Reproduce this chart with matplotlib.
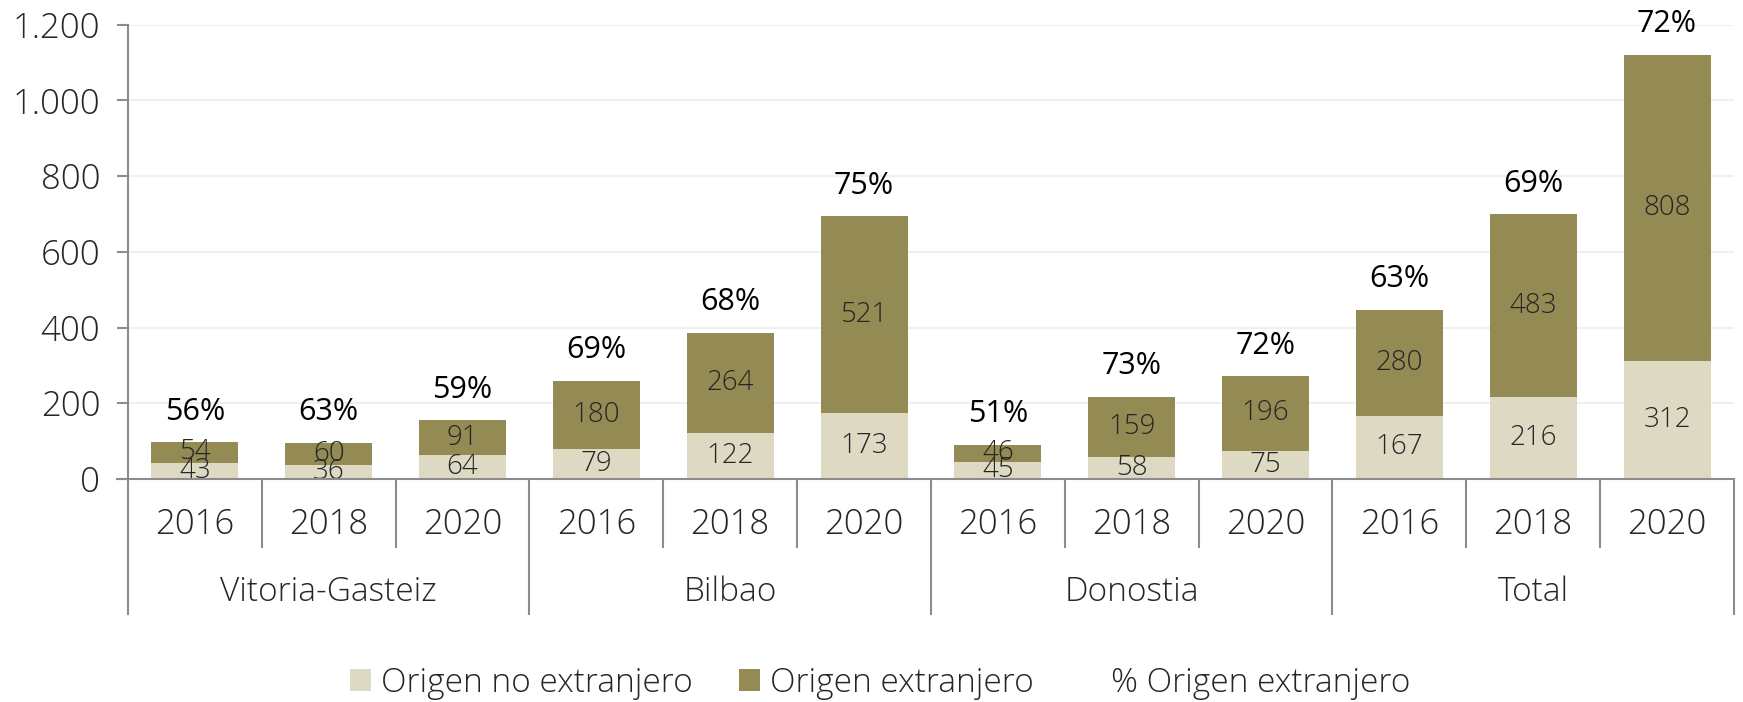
import matplotlib.pyplot as plt
import matplotlib.transforms as mtransforms
from matplotlib.patches import Patch
from matplotlib.lines import Line2D

plt.rcParams["font.family"] = ["Open Sans", "DejaVu Sans"]

# Données
ciudades = ["Vitoria-Gasteiz", "Bilbao", "Donostia", "Total"]
anios = ["2016", "2018", "2020"]
no_extranjero = [43, 36, 64, 79, 122, 173, 45, 58, 75, 167, 216, 312]
extranjero = [54, 60, 91, 180, 264, 521, 46, 159, 196, 280, 483, 808]
pct_extranjero = ["56%", "63%", "59%", "69%", "68%", "75%", "51%", "73%", "72%", "63%", "69%", "72%"]

c_claro = "#DDD9C3"
c_oscuro = "#948A54"
c_eje = "#8C8C8C"
c_texto = "#262626"

fig = plt.figure(figsize=(17.43, 7.02), dpi=100)
ax = fig.add_axes([0.0734, 0.3177, 0.9214, 0.6473])

n = len(no_extranjero)
x = list(range(n))
ancho = 0.65

ax.bar(x, no_extranjero, width=ancho, color=c_claro, zorder=2)
tops = [a + b for a, b in zip(no_extranjero, extranjero)]
ax.bar(x, extranjero, width=ancho, bottom=no_extranjero, color=c_oscuro, zorder=2)

# Etiquetas dentro de las barras
for i in range(n):
    ax.text(x[i], no_extranjero[i] / 2, str(no_extranjero[i]), ha="center", va="center",
            fontsize=20, fontweight="light", color=c_texto, zorder=3)
    ax.text(x[i], no_extranjero[i] + extranjero[i] / 2, str(extranjero[i]), ha="center",
            va="center", fontsize=20, fontweight="light", color=c_texto, zorder=3)
    ax.annotate(pct_extranjero[i], (x[i], tops[i]), xytext=(0, 22), textcoords="offset points",
                ha="center", va="center", fontsize=22, color="black")

ax.set_xlim(-0.5, n - 0.5)
ax.set_ylim(0, 1200)
ax.set_yticks(range(0, 1201, 200))
ax.set_yticklabels(["0", "200", "400", "600", "800", "1.000", "1.200"], fontweight="light")
ax.tick_params(axis="y", labelsize=25, labelcolor=c_texto, color=c_eje, length=8, width=1.5, pad=12)
ax.set_xticks([])
ax.grid(axis="y", color="#EFEFEF", linewidth=1.5, zorder=0)

for s in ["top", "right", "bottom"]:
    ax.spines[s].set_visible(False)
ax.spines["left"].set_color(c_eje)
ax.spines["left"].set_linewidth(1.5)

# Eje x con categorías agrupadas
trans = mtransforms.blended_transform_factory(ax.transData, ax.transAxes)
ax.plot([-0.58, n - 0.5], [0, 0], color=c_eje, lw=1.5, transform=trans, clip_on=False, zorder=4)
for k in range(n + 1):
    fondo = -0.297 if k % 3 == 0 else -0.15
    ax.plot([k - 0.5, k - 0.5], [0, fondo], color=c_eje, lw=1.5, transform=trans, clip_on=False)
for i in range(n):
    ax.text(x[i], -0.101, anios[i % 3], transform=trans, ha="center", va="center",
            fontsize=25, fontweight="light", color=c_texto)
for g, nombre in enumerate(ciudades):
    ax.text(g * 3 + 1, -0.249, nombre, transform=trans, ha="center", va="center",
            fontsize=24, fontweight="light", color=c_texto)

handles = [
    Patch(facecolor=c_claro, label="Origen no extranjero"),
    Patch(facecolor=c_oscuro, label="Origen extranjero"),
    Line2D([], [], linestyle="none", label="% Origen extranjero"),
]
fig.legend(handles=handles, loc="center", bbox_to_anchor=(0.505, 0.027), ncol=3,
           frameon=False, handlelength=0.62, handleheight=0.62,
           handletextpad=0.3, columnspacing=1.4, labelcolor=c_texto,
           prop={"size": 24, "weight": "light"})

plt.savefig("out.png", dpi=100)
